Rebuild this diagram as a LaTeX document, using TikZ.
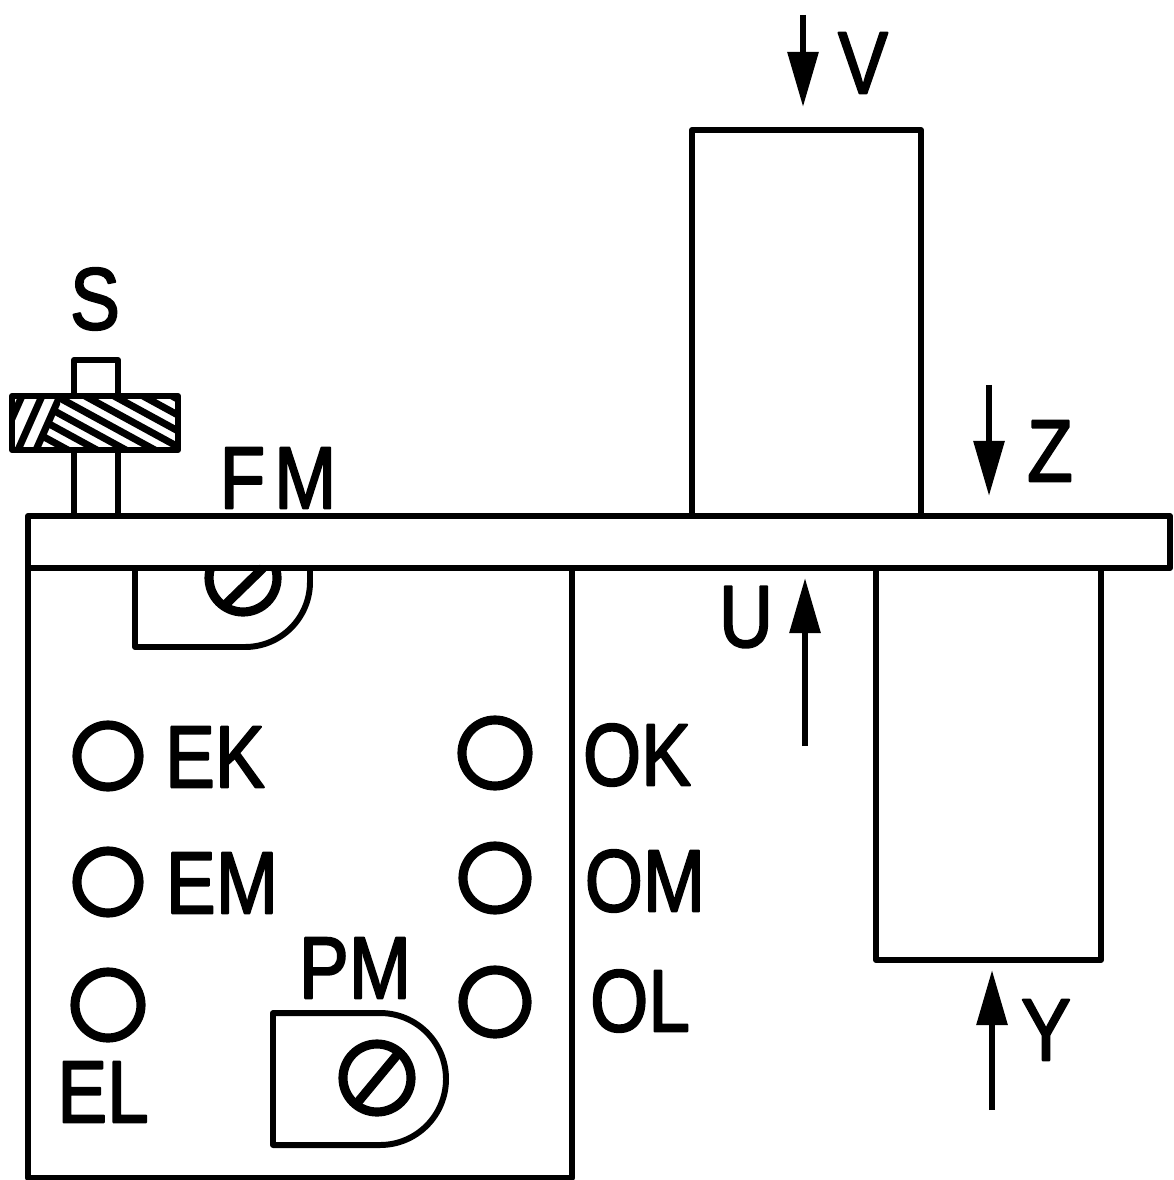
\documentclass[tikz,border=0pt]{standalone}
\usepackage{fontspec}
\newfontfamily\labfont[FakeBold=2.4]{Liberation Sans}
\usetikzlibrary{arrows.meta}
\tikzset{
  lab/.style={font=\labfont\fontsize{25}{27}\selectfont, inner sep=0pt, xscale=.85},
  push/.style={-{Triangle[length=5.5mm,width=3mm]}, line width=1.7pt},
  hatch line/.style={line width=2pt},
  screw/.style={line width=2.6pt}
}
\begin{document}
\begin{tikzpicture}[x=.01cm,y=-.01cm,line width=1.7pt,line join=round]
\useasboundingbox (0,0) rectangle (1173,1180);
\pgfmathsetmacro{\platetop}{516}
\pgfmathsetmacro{\platebot}{568}
\draw (74,\platetop) -- (74,450) (118,450) -- (118,\platetop);
\draw (74,396) -- (74,360) -- (118,360) -- (118,396);
\begin{scope}
\clip (60,396) -- (180,396) -- (180,450) -- (36,450) -- cycle;
\foreach \d in {-60,-31,...,180}
  \draw[hatch line] (\d,396) -- ++(130,71);
\end{scope}
\begin{scope}
\clip (12,396) rectangle (60,450);
\foreach \d in {22,42,60}
  \draw[hatch line] (\d,396) -- ++(-24,54);
\end{scope}
\draw (12,396) rectangle (178,450);
\draw (28,\platebot) -- (28,\platetop) -- (1170,\platetop) -- (1170,\platebot) -- cycle;
\draw (28,\platebot) -- (28,1178) -- (572,1178) -- (572,\platebot);
\draw (692,\platetop) -- (692,130) -- (921,130) -- (921,\platetop);
\draw (876,\platebot) -- (876,960) -- (1101,960) -- (1101,\platebot);
\draw (135,\platebot) -- (135,647) -- (245,647) arc (90:0:65) -- (310,\platebot);
\draw[screw] (243,578) ++(-17:34) arc (-17:197:34);
\draw[screw] (225,605) -- (263,568);
\draw (380,1013) arc (-90:90:66) -- (273,1145) -- (273,1013) -- cycle;
\draw[screw] (377,1078) circle (34);
\draw[screw] (358,1102) -- (397,1055);
\draw[screw] (108,756) circle (31);
\draw[screw] (108,882) circle (31);
\draw[screw] (108,1005) circle (33);
\draw[screw] (495,753) circle (33);
\draw[screw] (495,878) circle (32);
\draw[screw] (495,1002) circle (32);
\node[lab] (s) at (95,299) {S};
\node[lab] (fm) at (278,478) {F\kern 3pt M};
\node[lab] (v) at (863,63) {V};
\node[lab] (z) at (1050,451) {Z};
\node[lab] (u) at (746,617) {U};
\node[lab] (y) at (1046,1030) {Y};
\node[lab] (ek) at (215,757) {EK};
\node[lab] (em) at (222,883) {EM};
\node[lab] (el) at (103,1092) {EL};
\node[lab] (ok) at (637,755) {OK};
\node[lab] (om) at (645,881) {OM};
\node[lab] (ol) at (640,1001) {OL};
\node[lab] (pm) at (355,968) {PM};
\draw[push] (803,15) -- (803,107);
\draw[push] (989,385) -- (989,496);
\draw[push] (805,746) -- (805,578);
\draw[push] (992,1110) -- (992,970);
\end{tikzpicture}
\end{document}
